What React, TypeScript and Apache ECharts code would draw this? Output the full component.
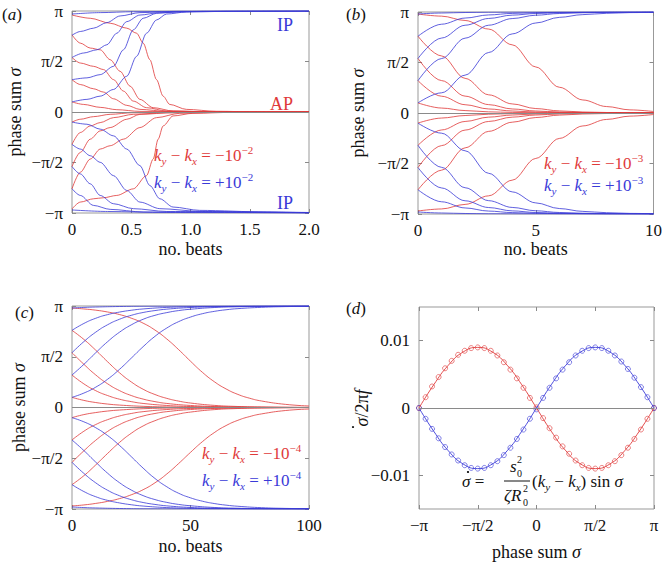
import React, { useEffect, useRef } from 'react';
import * as echarts from 'echarts';

const RED = '#e03a3a';
const BLUE = '#3a3ad8';
const GREY = '#8a8a8a';
const FONT = 'Liberation Serif, Times New Roman, serif';

// sigma values are stored in units of pi
const aRed = [
  [[0, 0.96], [0.154, 0.928], [0.322, 0.879], [0.462, 0.83], [0.545, 0.78], [0.601, 0.682], [0.657, 0.518], [0.713, 0.321], [0.769, 0.157], [0.825, 0.075], [0.965, 0.026], [1.217, 0.007], [1.6, 0.001], [2, 0]],
  [[0, 0.764], [0.07, 0.682], [0.154, 0.633], [0.238, 0.616], [0.322, 0.518], [0.406, 0.403], [0.49, 0.256], [0.573, 0.125], [0.685, 0.043], [0.853, 0.01], [1.2, 0.001], [2, 0]],
  [[0, 0.54], [0.07, 0.485], [0.182, 0.452], [0.266, 0.42], [0.35, 0.321], [0.434, 0.207], [0.517, 0.108], [0.629, 0.043], [0.797, 0.01], [1.2, 0.001], [2, 0]],
  [[0, 0.32], [0.07, 0.272], [0.182, 0.23], [0.266, 0.197], [0.35, 0.131], [0.462, 0.066], [0.573, 0.026], [0.8, 0.006], [1.2, 0.001], [2, 0]],
  [[0, 0.1], [0.098, 0.075], [0.238, 0.046], [0.378, 0.023], [0.573, 0.006], [1, 0.001], [2, 0]],
  [[0, -0.1], [0.07, -0.072], [0.182, -0.046], [0.322, -0.023], [0.517, -0.007], [1, -0.001], [2, 0]],
  [[0, -0.32], [0.07, -0.203], [0.154, -0.138], [0.238, -0.105], [0.35, -0.056], [0.517, -0.023], [0.8, -0.007], [1.2, -0.001], [2, 0]],
  [[0, -0.54], [0.07, -0.4], [0.154, -0.269], [0.238, -0.187], [0.322, -0.154], [0.462, -0.072], [0.573, -0.023], [0.853, -0.007], [1.2, -0.001], [2, 0]],
  [[0, -0.76], [0.07, -0.597], [0.154, -0.466], [0.238, -0.367], [0.322, -0.334], [0.434, -0.269], [0.573, -0.154], [0.713, -0.056], [0.909, -0.013], [1.3, -0.002], [2, 0]],
  [[0, -0.96], [0.07, -0.892], [0.182, -0.859], [0.266, -0.849], [0.378, -0.826], [0.517, -0.761], [0.629, -0.63], [0.685, -0.466], [0.727, -0.269], [0.769, -0.138], [0.853, -0.039], [1.02, -0.013], [1.4, -0.002], [2, 0]],
];
const aBlue = [
  [[0, 0.97], [0.238, 0.984], [0.517, 0.993], [1, 0.998], [2, 1]],
  [[0, 0.76], [0.07, 0.797], [0.182, 0.83], [0.294, 0.885], [0.406, 0.951], [0.573, 0.984], [0.9, 0.997], [2, 1]],
  [[0, 0.54], [0.098, 0.584], [0.21, 0.616], [0.294, 0.666], [0.378, 0.78], [0.462, 0.895], [0.573, 0.96], [0.741, 0.984], [1.1, 0.997], [2, 1]],
  [[0, 0.32], [0.126, 0.338], [0.238, 0.37], [0.35, 0.452], [0.434, 0.616], [0.517, 0.813], [0.601, 0.928], [0.713, 0.977], [0.909, 0.993], [1.3, 0.999], [2, 1]],
  [[0, 0.1], [0.126, 0.125], [0.238, 0.157], [0.35, 0.223], [0.462, 0.354], [0.545, 0.551], [0.629, 0.78], [0.713, 0.911], [0.797, 0.97], [0.965, 0.99], [1.4, 0.999], [2, 1]],
  [[0, -0.1], [0.126, -0.121], [0.238, -0.17], [0.35, -0.236], [0.462, -0.367], [0.573, -0.531], [0.657, -0.728], [0.741, -0.859], [0.853, -0.941], [1.077, -0.974], [1.64, -0.99], [2, -0.995]],
  [[0, -0.32], [0.07, -0.367], [0.154, -0.433], [0.238, -0.498], [0.35, -0.63], [0.462, -0.777], [0.573, -0.892], [0.741, -0.957], [1.1, -0.985], [2, -0.997]],
  [[0, -0.54], [0.07, -0.613], [0.154, -0.711], [0.238, -0.826], [0.35, -0.908], [0.517, -0.957], [0.8, -0.985], [2, -0.998]],
  [[0, -0.76], [0.07, -0.826], [0.182, -0.925], [0.322, -0.964], [0.6, -0.99], [2, -1]],
  [[0, -0.97], [0.3, -0.985], [0.8, -0.995], [2, -1]],
];

const bRed = [
  [[0, 0.98], [1, 0.959], [2, 0.916], [3, 0.831], [4, 0.675], [5, 0.456], [6, 0.255], [7, 0.129], [8, 0.064], [9, 0.031], [10, 0.015]],
  [[0, 0.76], [1, 0.565], [2, 0.343], [3, 0.18], [4, 0.09], [5, 0.044], [6, 0.021], [7, 0.01], [8, 0.005], [9, 0.002], [10, 0.001]],
  [[0, 0.54], [1, 0.321], [2, 0.167], [3, 0.083], [4, 0.04], [5, 0.02], [6, 0.0096], [7, 0.0047], [8, 0.0023], [10, 0]],
  [[0, 0.32], [1, 0.166], [2, 0.082], [3, 0.04], [4, 0.02], [5, 0.0095], [6, 0.0047], [8, 0.001], [10, 0]],
  [[0, 0.1], [1, 0.049], [2, 0.024], [3, 0.0116], [4, 0.0057], [5, 0.0028], [6, 0.0013], [8, 0.0003], [10, 0]],
  [[0, -0.1], [1, -0.05], [2, -0.025], [3, -0.012], [4, -0.006], [5, -0.003], [6, -0.0013], [8, -0.0003], [10, 0]],
  [[0, -0.32], [1, -0.168], [2, -0.084], [3, -0.041], [4, -0.02], [5, -0.0095], [6, -0.0047], [8, -0.001], [10, 0]],
  [[0, -0.54], [1, -0.323], [2, -0.169], [3, -0.084], [4, -0.041], [5, -0.02], [6, -0.0096], [7, -0.0047], [8, -0.0023], [10, 0]],
  [[0, -0.76], [1, -0.566], [2, -0.345], [3, -0.182], [4, -0.091], [5, -0.045], [6, -0.021], [7, -0.01], [8, -0.005], [9, -0.002], [10, -0.001]],
  [[0, -0.97], [1, -0.95], [2, -0.905], [3, -0.82], [4, -0.665], [5, -0.45], [6, -0.252], [7, -0.128], [8, -0.064], [9, -0.031], [10, -0.015]],
];
const bBlue = [
  [[0, 0.98], [1, 0.99], [2, 0.995], [3, 0.998], [5, 0.999], [10, 1]],
  [[0, 0.76], [1, 0.879], [2, 0.94], [3, 0.971], [4, 0.986], [5, 0.993], [6, 0.9966], [8, 0.9992], [10, 1]],
  [[0, 0.54], [1, 0.742], [2, 0.869], [3, 0.936], [4, 0.969], [5, 0.985], [6, 0.9925], [7, 0.996], [8, 0.998], [10, 1]],
  [[0, 0.32], [1, 0.539], [2, 0.741], [3, 0.869], [4, 0.935], [5, 0.968], [6, 0.985], [7, 0.9925], [8, 0.996], [10, 0.999]],
  [[0, 0.1], [1, 0.2], [2, 0.375], [3, 0.599], [4, 0.783], [5, 0.891], [6, 0.947], [7, 0.974], [8, 0.987], [9, 0.994], [10, 0.997]],
  [[0, -0.1], [1, -0.2], [2, -0.374], [3, -0.597], [4, -0.781], [5, -0.89], [6, -0.946], [7, -0.974], [8, -0.987], [9, -0.994], [10, -0.997]],
  [[0, -0.32], [1, -0.538], [2, -0.74], [3, -0.868], [4, -0.935], [5, -0.968], [6, -0.985], [7, -0.9925], [8, -0.996], [10, -0.999]],
  [[0, -0.54], [1, -0.742], [2, -0.869], [3, -0.936], [4, -0.969], [5, -0.985], [6, -0.9925], [7, -0.996], [8, -0.998], [10, -1]],
  [[0, -0.76], [1, -0.879], [2, -0.94], [3, -0.971], [4, -0.986], [5, -0.993], [6, -0.9966], [8, -0.9992], [10, -1]],
  [[0, -0.98], [1, -0.99], [2, -0.995], [3, -0.998], [5, -0.999], [10, -1]],
];

const cRed = [
  [[0, 0.98], [5, 0.971], [10, 0.959], [15, 0.941], [20, 0.916], [25, 0.88], [30, 0.831], [35, 0.763], [40, 0.675], [45, 0.57], [50, 0.456], [55, 0.347], [60, 0.255], [65, 0.183], [70, 0.129], [75, 0.091], [80, 0.064], [90, 0.031], [100, 0.015]],
  [[0, 0.76], [5, 0.671], [10, 0.565], [15, 0.451], [20, 0.343], [25, 0.252], [30, 0.18], [35, 0.128], [40, 0.09], [45, 0.063], [50, 0.044], [60, 0.021], [70, 0.01], [80, 0.005], [100, 0.001]],
  [[0, 0.54], [5, 0.426], [10, 0.321], [15, 0.234], [20, 0.167], [25, 0.118], [30, 0.083], [35, 0.058], [40, 0.04], [50, 0.02], [60, 0.0096], [70, 0.0047], [80, 0.0023], [100, 0]],
  [[0, 0.32], [5, 0.233], [10, 0.166], [15, 0.118], [20, 0.082], [25, 0.058], [30, 0.04], [40, 0.02], [50, 0.0095], [60, 0.0047], [80, 0.001], [100, 0]],
  [[0, 0.1], [5, 0.07], [10, 0.049], [15, 0.034], [20, 0.024], [30, 0.0116], [40, 0.0057], [50, 0.0028], [60, 0.0013], [80, 0.0003], [100, 0]],
  [[0, -0.1], [5, -0.07], [10, -0.05], [15, -0.035], [20, -0.025], [30, -0.012], [40, -0.006], [50, -0.003], [60, -0.0013], [80, -0.0003], [100, 0]],
  [[0, -0.32], [5, -0.234], [10, -0.168], [15, -0.12], [20, -0.084], [25, -0.059], [30, -0.041], [40, -0.02], [50, -0.0095], [60, -0.0047], [80, -0.001], [100, 0]],
  [[0, -0.54], [5, -0.427], [10, -0.323], [15, -0.236], [20, -0.169], [25, -0.12], [30, -0.084], [35, -0.059], [40, -0.041], [50, -0.02], [60, -0.0096], [70, -0.0047], [80, -0.0023], [100, 0]],
  [[0, -0.76], [5, -0.672], [10, -0.566], [15, -0.453], [20, -0.345], [25, -0.254], [30, -0.182], [35, -0.13], [40, -0.091], [45, -0.064], [50, -0.045], [60, -0.021], [70, -0.01], [80, -0.005], [100, -0.001]],
  [[0, -0.97], [5, -0.96], [10, -0.945], [15, -0.925], [20, -0.898], [25, -0.86], [30, -0.81], [35, -0.742], [40, -0.655], [45, -0.552], [50, -0.442], [55, -0.337], [60, -0.248], [65, -0.178], [70, -0.126], [75, -0.089], [80, -0.063], [90, -0.03], [100, -0.015]],
];
const cBlue = [
  [[0, 0.98], [5, 0.986], [10, 0.99], [20, 0.995], [30, 0.998], [50, 0.999], [100, 1]],
  [[0, 0.76], [5, 0.828], [10, 0.879], [15, 0.915], [20, 0.94], [25, 0.958], [30, 0.971], [40, 0.986], [50, 0.993], [60, 0.9966], [80, 0.9992], [100, 1]],
  [[0, 0.54], [5, 0.649], [10, 0.742], [15, 0.815], [20, 0.869], [25, 0.908], [30, 0.936], [35, 0.955], [40, 0.969], [50, 0.985], [60, 0.9925], [70, 0.996], [80, 0.998], [100, 1]],
  [[0, 0.32], [5, 0.425], [10, 0.539], [15, 0.648], [20, 0.741], [25, 0.814], [30, 0.869], [35, 0.908], [40, 0.935], [45, 0.955], [50, 0.968], [60, 0.985], [70, 0.9925], [80, 0.996], [100, 0.999]],
  [[0, 0.1], [5, 0.142], [10, 0.2], [15, 0.278], [20, 0.375], [25, 0.486], [30, 0.599], [35, 0.701], [40, 0.783], [45, 0.846], [50, 0.891], [55, 0.924], [60, 0.947], [65, 0.963], [70, 0.974], [80, 0.987], [90, 0.994], [100, 0.997]],
  [[0, -0.1], [5, -0.141], [10, -0.199], [15, -0.276], [20, -0.373], [25, -0.484], [30, -0.597], [35, -0.699], [40, -0.781], [45, -0.845], [50, -0.89], [55, -0.923], [60, -0.946], [65, -0.962], [70, -0.973], [80, -0.987], [90, -0.994], [100, -0.997]],
  [[0, -0.32], [5, -0.424], [10, -0.538], [15, -0.647], [20, -0.74], [25, -0.813], [30, -0.868], [35, -0.907], [40, -0.935], [45, -0.955], [50, -0.968], [60, -0.985], [70, -0.9925], [80, -0.996], [100, -0.999]],
  [[0, -0.54], [5, -0.649], [10, -0.742], [15, -0.815], [20, -0.869], [25, -0.908], [30, -0.936], [35, -0.955], [40, -0.969], [50, -0.985], [60, -0.9925], [70, -0.996], [80, -0.998], [100, -1]],
  [[0, -0.76], [5, -0.828], [10, -0.879], [15, -0.915], [20, -0.94], [25, -0.958], [30, -0.971], [40, -0.986], [50, -0.993], [60, -0.9966], [80, -0.9992], [100, -1]],
  [[0, -0.98], [5, -0.986], [10, -0.99], [20, -0.995], [30, -0.998], [50, -0.999], [100, -1]],
];

// panel d: sigma (units of pi) and d(sigma)/dt / 2 pi f
const dFitSigma = [-1, -0.875, -0.75, -0.625, -0.5, -0.375, -0.25, -0.125, 0, 0.125, 0.25, 0.375, 0.5, 0.625, 0.75, 0.875, 1];
const dFitRed = [0, 0.00344, 0.00636, 0.00831, 0.009, 0.00831, 0.00636, 0.00344, 0, -0.00344, -0.00636, -0.00831, -0.009, -0.00831, -0.00636, -0.00344, 0];
const dFitBlue = [0, -0.00344, -0.00636, -0.00831, -0.009, -0.00831, -0.00636, -0.00344, 0, 0.00344, 0.00636, 0.00831, 0.009, 0.00831, 0.00636, 0.00344, 0];
const dDotSigma = [-1, -0.944, -0.889, -0.833, -0.778, -0.722, -0.667, -0.611, -0.556, -0.5, -0.444, -0.389, -0.333, -0.278, -0.222, -0.167, -0.111, -0.056, 0, 0.056, 0.111, 0.167, 0.222, 0.278, 0.333, 0.389, 0.444, 0.5, 0.556, 0.611, 0.667, 0.722, 0.778, 0.833, 0.889, 0.944, 1];
const dDotRed = [0, 0.0016, 0.0032, 0.0046, 0.0059, 0.0070, 0.0079, 0.0085, 0.0089, 0.0090, 0.0089, 0.0085, 0.0078, 0.0068, 0.0057, 0.0044, 0.0030, 0.0015, 0.0001, -0.0015, -0.0030, -0.0044, -0.0057, -0.0068, -0.0078, -0.0085, -0.0089, -0.0090, -0.0089, -0.0085, -0.0079, -0.0070, -0.0059, -0.0046, -0.0032, -0.0016, 0];
const dDotBlue = [0, -0.0016, -0.0031, -0.0045, -0.0058, -0.0069, -0.0078, -0.0085, -0.0089, -0.0090, -0.0089, -0.0085, -0.0079, -0.0070, -0.0059, -0.0046, -0.0032, -0.0016, -0.0002, 0.0015, 0.0030, 0.0044, 0.0057, 0.0068, 0.0078, 0.0085, 0.0089, 0.0090, 0.0089, 0.0085, 0.0078, 0.0069, 0.0058, 0.0045, 0.0031, 0.0016, 0];

const piLabels: Record<string, string> = { '-1': '−π', '-0.5': '−π/2', '0': '0', '0.5': 'π/2', '1': 'π' };
const piFmt = (v: number) => piLabels[String(Math.round(v * 2) / 2)] ?? '';

const grids = [
  { left: 72, top: 11, width: 237, height: 202 },
  { left: 418, top: 12, width: 236, height: 202 },
  { left: 72, top: 306, width: 237, height: 203 },
  { left: 419, top: 307, width: 235, height: 203 },
];

const rich = {
  n: { fontFamily: FONT, fontSize: 17, lineHeight: 22 },
  i: { fontFamily: FONT, fontSize: 17, fontStyle: 'italic', lineHeight: 22 },
  sub: { fontFamily: FONT, fontSize: 11, fontStyle: 'italic', verticalAlign: 'bottom', lineHeight: 13 },
  subn: { fontFamily: FONT, fontSize: 10, verticalAlign: 'middle', lineHeight: 11 },
  supn: { fontFamily: FONT, fontSize: 10, verticalAlign: 'middle', lineHeight: 11 },
  sup: { fontFamily: FONT, fontSize: 11, verticalAlign: 'top', lineHeight: 13 },
};

export default function App() {
  const ref = useRef<HTMLDivElement>(null);
  useEffect(() => {
    document.body.style.margin = '0';
    const chart = echarts.init(ref.current!, null, { renderer: 'svg' });

    const tickStyle = { show: true, inside: true, length: 4, lineStyle: { color: GREY, width: 1 } };
    const labelStyle = { fontFamily: FONT, fontSize: 17, color: '#111', fontStyle: 'normal', fontWeight: 'normal' };
    const nameStyle = { fontFamily: FONT, fontSize: 18, color: '#111', fontStyle: 'normal', fontWeight: 'normal', rich: { i: { fontFamily: FONT, fontSize: 18, fontStyle: 'italic', color: '#111' }, n: { fontFamily: FONT, fontSize: 18, color: '#111' } } };
    const xAxes: any[] = [];
    const yAxes: any[] = [];
    const xCfg = [
      { min: 0, max: 2, interval: 0.5, fmt: (v: number) => (v === 0 ? '0' : v.toFixed(1)), name: '{n|no. beats}', gap: 27 },
      { min: 0, max: 10, interval: 5, fmt: (v: number) => String(v), name: '{n|no. beats}', gap: 26 },
      { min: 0, max: 100, interval: 50, fmt: (v: number) => String(v), name: '{n|no. beats}', gap: 28 },
      { min: -1, max: 1, interval: 0.5, fmt: piFmt, name: '{n|phase sum }{i|σ}', gap: 34 },
    ];
    xCfg.forEach((c, g) => {
      xAxes.push({
        type: 'value', gridIndex: g, min: c.min, max: c.max, interval: c.interval, position: 'bottom',
        axisLine: { show: false, onZero: false }, splitLine: { show: false }, axisTick: tickStyle,
        axisLabel: { ...labelStyle, margin: 8, formatter: c.fmt },
        name: c.name, nameLocation: 'middle', nameGap: c.gap, nameTextStyle: nameStyle,
      });
      xAxes.push({
        type: 'value', gridIndex: g, min: c.min, max: c.max, interval: c.interval, position: 'top',
        axisLine: { show: false, onZero: false }, splitLine: { show: false }, axisTick: tickStyle, axisLabel: { show: false },
      });
    });
    const yGaps = [48, 51, 44];
    [0, 1, 2].forEach((g) => {
      yAxes.push({
        type: 'value', gridIndex: g, min: -1, max: 1, interval: 0.5, position: 'left',
        axisLine: { show: false, onZero: false }, splitLine: { show: false }, axisTick: tickStyle,
        axisLabel: { ...labelStyle, margin: 9, formatter: piFmt },
        name: '{n|phase sum }{i|σ}', nameLocation: 'middle', nameGap: yGaps[g], nameRotate: 90, nameTextStyle: nameStyle,
      });
      yAxes.push({
        type: 'value', gridIndex: g, min: -1, max: 1, interval: 0.5, position: 'right',
        axisLine: { show: false, onZero: false }, splitLine: { show: false }, axisTick: tickStyle, axisLabel: { show: false },
      });
    });
    yAxes.push({
      type: 'value', gridIndex: 3, min: -0.015, max: 0.015, position: 'left',
      axisLine: { show: false, onZero: false }, splitLine: { show: false },
      axisTick: { ...tickStyle, customValues: [-0.01, 0, 0.01] },
      axisLabel: { ...labelStyle, margin: 9, customValues: [-0.01, 0, 0.01], formatter: (v: number) => (Math.abs(v) < 1e-9 ? '0' : v < 0 ? '−0.01' : '0.01') },
    });
    yAxes.push({
      type: 'value', gridIndex: 3, min: -0.015, max: 0.015, position: 'right',
      axisLine: { show: false, onZero: false }, splitLine: { show: false },
      axisTick: { ...tickStyle, customValues: [-0.01, 0, 0.01] }, axisLabel: { show: false },
    });

    const series: any[] = [];
    const zeroLine = (g: number) => ({
      type: 'line', xAxisIndex: 2 * g, yAxisIndex: 2 * g, data: [], silent: true,
      markLine: { silent: true, symbol: 'none', label: { show: false }, lineStyle: { color: GREY, width: 1, type: 'solid' }, data: [{ yAxis: 0 }] },
    });
    const curves = (list: number[][][], color: string, g: number, smooth: number, mono: string | undefined) =>
      list.forEach((c) =>
        series.push({
          type: 'line', xAxisIndex: 2 * g, yAxisIndex: 2 * g, data: c, showSymbol: false, silent: true,
          smooth, smoothMonotone: mono, lineStyle: { color, width: 0.9, opacity: 0.9 },
        })
      );
    [0, 1, 2, 3].forEach((g) => series.push(zeroLine(g)));
    curves(aRed, RED, 0, 0.3, 'x'); curves(aBlue, BLUE, 0, 0.3, 'x');
    curves(bRed, RED, 1, 0.35, 'x'); curves(bBlue, BLUE, 1, 0.35, 'x');
    curves(cRed, RED, 2, 0.5, undefined); curves(cBlue, BLUE, 2, 0.5, undefined);

    const zip = (xs: number[], ys: number[]) => xs.map((x, i) => [x, ys[i]]);
    series.push({ type: 'line', xAxisIndex: 6, yAxisIndex: 6, data: zip(dFitSigma, dFitRed), smooth: 0.5, showSymbol: false, silent: true, lineStyle: { color: RED, width: 0.9 } });
    series.push({ type: 'line', xAxisIndex: 6, yAxisIndex: 6, data: zip(dFitSigma, dFitBlue), smooth: 0.5, showSymbol: false, silent: true, lineStyle: { color: BLUE, width: 0.9 } });
    series.push({ type: 'scatter', xAxisIndex: 6, yAxisIndex: 6, data: zip(dDotSigma, dDotRed), symbol: 'circle', symbolSize: 5, silent: true, itemStyle: { color: 'rgba(0,0,0,0)', borderColor: RED, borderWidth: 0.8 } });
    series.push({ type: 'scatter', xAxisIndex: 6, yAxisIndex: 6, data: zip(dDotSigma, dDotBlue), symbol: 'circle', symbolSize: 5, silent: true, itemStyle: { color: 'rgba(0,0,0,0)', borderColor: BLUE, borderWidth: 0.8 } });

    const txt = (x: number, y: number, text: string, color: string, align = 'left', size = 17) => ({
      type: 'text', x, y, silent: true,
      style: { text, fill: color, fontFamily: FONT, fontSize: size, align, verticalAlign: 'middle', rich: Object.fromEntries(Object.entries(rich).map(([k, v]) => [k, { ...v, fill: color }])) },
    });
    const kLabel = (x: number, y: number, sign: string, exp: string, color: string) =>
      txt(x, y, `{i|k}{sub|y}{n| − }{i|k}{sub|x}{n| = ${sign}10}{sup|−${exp}}`, color);
    const dot = (x: number, y: number) => ({ type: 'circle', silent: true, shape: { cx: x, cy: y, r: 1.1 }, style: { fill: '#111' } });

    const graphic: any[] = [
      txt(2, 14, '{n|(}{i|a}{n|)}', '#111'),
      txt(346, 14, '{n|(}{i|b}{n|)}', '#111'),
      txt(15, 312, '{n|(}{i|c}{n|)}', '#111'),
      txt(346, 308, '{n|(}{i|d}{n|)}', '#111'),
      txt(293, 25, 'IP', BLUE, 'right', 18),
      txt(293, 104, 'AP', RED, 'right', 18),
      txt(293, 203, 'IP', BLUE, 'right', 18),
      kLabel(154, 155, '−', '2', RED),
      kLabel(154, 182, '+', '2', BLUE),
      kLabel(544, 163, '−', '3', RED),
      kLabel(544, 185, '+', '3', BLUE),
      kLabel(202, 453, '−', '4', RED),
      kLabel(202, 480, '+', '4', BLUE),
      {
        type: 'group', x: 362, y: 408, rotation: Math.PI / 2, silent: true,
        children: [
          { type: 'text', x: 0, y: 0, style: { text: '{i|σ}{n|/2π}{i|f}', fill: '#111', fontFamily: FONT, fontSize: 18, align: 'center', verticalAlign: 'middle', rich: { i: { fontFamily: FONT, fontSize: 18, fontStyle: 'italic', fill: '#111' }, n: { fontFamily: FONT, fontSize: 18, fill: '#111' } } } },
          { type: 'circle', shape: { cx: -19, cy: -9, r: 1.1 }, style: { fill: '#111' } },
        ],
      },
      txt(462, 481, '{i|σ}{n| =}', '#111'),
      dot(468, 472),
      txt(510, 466, '{i|s}', '#111'),
      txt(517, 459, '{supn|2}', '#111'),
      txt(517, 473, '{subn|0}', '#111'),
      { type: 'line', silent: true, shape: { x1: 504, y1: 481, x2: 530, y2: 481 }, style: { stroke: '#111', lineWidth: 1 } },
      txt(504, 495, '{i|ζR}', '#111'),
      txt(523, 488, '{supn|2}', '#111'),
      txt(523, 502, '{subn|0}', '#111'),
      txt(532, 481, '{n|(}{i|k}{sub|y}{n| − }{i|k}{sub|x}{n|) sin }{i|σ}', '#111'),
    ];

    chart.setOption({
      animation: false,
      backgroundColor: '#fff',
      textStyle: { fontFamily: FONT },
      grid: grids.map((g) => ({ ...g, show: true, borderColor: '#999', borderWidth: 1, backgroundColor: 'transparent', containLabel: false })),
      xAxis: xAxes,
      yAxis: yAxes,
      series,
      graphic,
    });
    return () => chart.dispose();
  }, []);
  return <div ref={ref} style={{ position: 'absolute', left: 0, top: 0, width: 665, height: 562 }} />;
}
